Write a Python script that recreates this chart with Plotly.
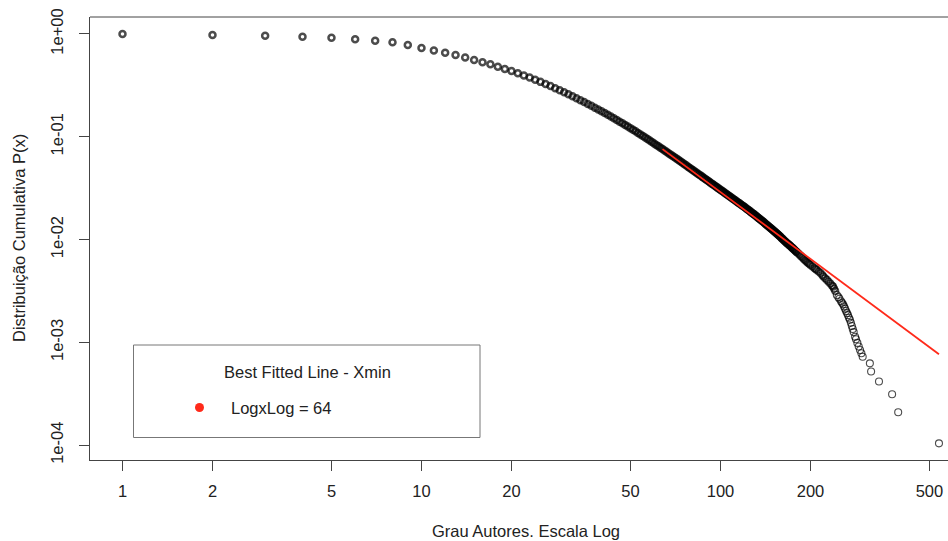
import plotly.graph_objects as go

# ---- data (degree vs. log10 of cumulative P(x)) ----
degrees = [
    1, 2, 3, 4, 5, 6, 7, 8, 9, 10, 11, 12, 13, 14, 15, 16, 17, 18, 19, 20,
    21, 22, 23, 24, 25, 26, 27, 28, 29, 30, 31, 32, 33, 34, 35, 36, 37, 38, 39, 40,
    41, 42, 43, 44, 45, 46, 47, 48, 49, 50, 51, 52, 53, 54, 55, 56, 57, 58, 59, 60,
    61, 62, 63, 64, 65, 66, 67, 68, 69, 70, 71, 72, 73, 74, 75, 76, 77, 78, 79, 80,
    81, 82, 83, 84, 85, 86, 87, 88, 89, 90, 91, 92, 93, 94, 95, 96, 97, 98, 99, 100,
    101, 102, 103, 104, 105, 106, 107, 108, 109, 110, 111, 112, 113, 114, 115, 116, 117, 118, 119, 120,
    121, 122, 123, 124, 125, 126, 127, 128, 129, 130, 131, 132, 133, 134, 135, 136, 137, 138, 139, 140,
    141, 142, 143, 144, 145, 146, 147, 148, 149, 150, 151, 152, 153, 154, 155, 156, 157, 158, 159, 160,
    161, 162, 163, 164, 165, 166, 167, 168, 169, 170, 171, 172, 173, 174, 175, 176, 177, 178, 179, 180,
    182, 184, 186, 188, 190, 192, 194, 196, 198, 200,
    203, 206, 208, 210, 213, 216, 219, 221, 224, 227, 230, 233, 236, 238, 240, 242, 245, 248, 250,
    253, 255, 257, 259, 261, 263, 265, 267, 269, 271, 273, 275, 277, 279, 282, 284, 287, 290, 293,
    296, 299, 316, 319, 339, 375, 393, 538,
]
ccdf_log10 = [
    0.0, -0.0097, -0.0165, -0.026, -0.036, -0.051, -0.065, -0.081, -0.108, -0.137,
    -0.160, -0.182, -0.204, -0.230, -0.253, -0.275, -0.295, -0.318, -0.340, -0.360,
    -0.382, -0.403, -0.424, -0.446, -0.466, -0.487, -0.507, -0.528, -0.547, -0.567,
    -0.587, -0.606, -0.625, -0.644, -0.662, -0.681, -0.699, -0.717, -0.734, -0.752,
    -0.769, -0.786, -0.803, -0.820, -0.836, -0.853, -0.869, -0.885, -0.901, -0.916,
    -0.932, -0.947, -0.963, -0.978, -0.993, -1.007, -1.022, -1.036, -1.051, -1.065,
    -1.079, -1.093, -1.107, -1.120, -1.134, -1.146, -1.160, -1.173, -1.185, -1.197,
    -1.209, -1.221, -1.233, -1.245, -1.257, -1.269, -1.280, -1.293, -1.303, -1.315,
    -1.326, -1.338, -1.348, -1.359, -1.369, -1.380, -1.390, -1.401, -1.410, -1.420,
    -1.431, -1.440, -1.451, -1.460, -1.469, -1.479, -1.488, -1.497, -1.507, -1.516,
    -1.525, -1.533, -1.543, -1.551, -1.560, -1.569, -1.577, -1.585, -1.594, -1.602,
    -1.610, -1.618, -1.627, -1.634, -1.643, -1.650, -1.658, -1.666, -1.673, -1.680,
    -1.688, -1.697, -1.704, -1.712, -1.720, -1.728, -1.736, -1.743, -1.750, -1.758,
    -1.766, -1.773, -1.782, -1.789, -1.797, -1.804, -1.812, -1.820, -1.827, -1.834,
    -1.843, -1.850, -1.858, -1.865, -1.873, -1.880, -1.887, -1.895, -1.902, -1.909,
    -1.917, -1.923, -1.931, -1.939, -1.946, -1.952, -1.960, -1.967, -1.976, -1.984,
    -1.991, -1.999, -2.006, -2.014, -2.021, -2.028, -2.035, -2.041, -2.048, -2.054,
    -2.061, -2.068, -2.075, -2.081, -2.088, -2.095, -2.102, -2.109, -2.116, -2.122,
    -2.134, -2.147, -2.161, -2.175, -2.189, -2.202, -2.214, -2.225, -2.236, -2.247,
    -2.262, -2.276, -2.287, -2.296, -2.310, -2.326, -2.345, -2.360, -2.376, -2.392,
    -2.410, -2.428, -2.446, -2.458, -2.478, -2.500, -2.539, -2.560, -2.575,
    -2.600, -2.615, -2.630, -2.650, -2.672, -2.695, -2.715, -2.735, -2.760, -2.780,
    -2.810, -2.840, -2.870, -2.900, -2.945, -2.970, -3.005, -3.040, -3.074,
    -3.105, -3.140, -3.204, -3.283, -3.380, -3.505, -3.680, -3.982,
]
ccdf = [10 ** v for v in ccdf_log10]

# best fitted power-law line (from xmin = 64 to the largest degree)
fit_x = [64, 538]
fit_p = [0.0758, 7.66e-4]

x_ticks = [1, 2, 5, 10, 20, 50, 100, 200, 500]
x_tick_text = ["1", "2", "5", "10", "20", "50", "100", "200", "500"]
y_ticks = [1, 0.1, 0.01, 0.001, 0.0001]
y_tick_text = ["1e+00", "1e-01", "1e-02", "1e-03", "1e-04"]

legend_title = "Best Fitted Line - Xmin"
legend_label = "LogxLog = 64"

# ---- styling ----
FONT = "Liberation Sans, Arial, Helvetica, sans-serif"
FS = 16.5
AX = "#444444"

sizes = []
widths = []
for d in degrees:
    if d < 160:
        sizes.append(6.0); widths.append(2.5)
    elif d < 245:
        sizes.append(6.5); widths.append(1.6)
    else:
        sizes.append(7.0); widths.append(1.1)

fig = go.Figure()
fig.add_trace(go.Scatter(
    x=degrees, y=ccdf, mode="markers",
    marker=dict(symbol="circle-open", color="black", size=sizes,
                line=dict(width=widths, color="black")),
    showlegend=False, hoverinfo="x+y",
))
fig.add_trace(go.Scatter(
    x=fit_x, y=fit_p, mode="lines",
    line=dict(color="#ff2a1a", width=1.8),
    showlegend=False,
))

W, H = 948, 541
L, R, T, B = 90, 0, 17, 81
pw, ph = W - L - R, H - T - B

def px_x(p):
    return (p - L) / pw

def px_y(p):
    return (H - B - p) / ph

fig.update_layout(
    width=W, height=H,
    margin=dict(l=L, r=R, t=T, b=B, pad=0),
    paper_bgcolor="white", plot_bgcolor="white",
    font=dict(family=FONT, size=FS, color="#222222"),
    xaxis=dict(
        type="log", range=[-0.1087, 2.761],
        tickvals=x_ticks, ticktext=x_tick_text,
        ticks="outside", ticklen=10, tickwidth=1, tickcolor=AX,
        showline=True, linecolor=AX, linewidth=1,
        showgrid=False, zeroline=False, ticklabelstandoff=6,
    ),
    yaxis=dict(
        type="log", range=[-4.144, 0.165],
        tickvals=y_ticks, ticktext=y_tick_text, tickangle=-90,
        ticks="outside", ticklen=10, tickwidth=1, tickcolor=AX,
        showline=True, linecolor=AX, linewidth=1,
        showgrid=False, zeroline=False, ticklabelstandoff=9,
    ),
    shapes=[
        dict(type="line", xref="paper", yref="paper", x0=0, x1=1, y0=1, y1=1,
             line=dict(color=AX, width=1)),
        dict(type="rect", xref="paper", yref="paper",
             x0=px_x(133.5), x1=px_x(480), y0=px_y(437.5), y1=px_y(345),
             line=dict(color="#777777", width=1), fillcolor="rgba(0,0,0,0)"),
        dict(type="circle", xref="paper", yref="paper",
             xsizemode="pixel", ysizemode="pixel",
             xanchor=px_x(199.5), yanchor=px_y(407.5),
             x0=-4.5, x1=4.5, y0=-4.5, y1=4.5,
             fillcolor="#ff2a1a", line=dict(width=0)),
    ],
    annotations=[
        dict(text=legend_title, xref="paper", yref="paper",
             x=px_x(307), y=px_y(372), xanchor="center", yanchor="middle",
             showarrow=False, font=dict(size=FS)),
        dict(text=legend_label, xref="paper", yref="paper",
             x=px_x(229), y=px_y(407.5), xanchor="left", yanchor="middle",
             showarrow=False, font=dict(size=FS)),
        dict(text="Grau Autores. Escala Log", xref="paper", yref="paper",
             x=px_x(526), y=px_y(531), xanchor="center", yanchor="middle",
             showarrow=False, font=dict(size=FS)),
        dict(text="Distribuição Cumulativa P(x)", xref="paper", yref="paper",
             x=px_x(19), y=px_y(238), xanchor="center", yanchor="middle",
             textangle=-90, showarrow=False, font=dict(size=FS)),
    ],
)

fig.write_html("out.html", config={"displayModeBar": False})
